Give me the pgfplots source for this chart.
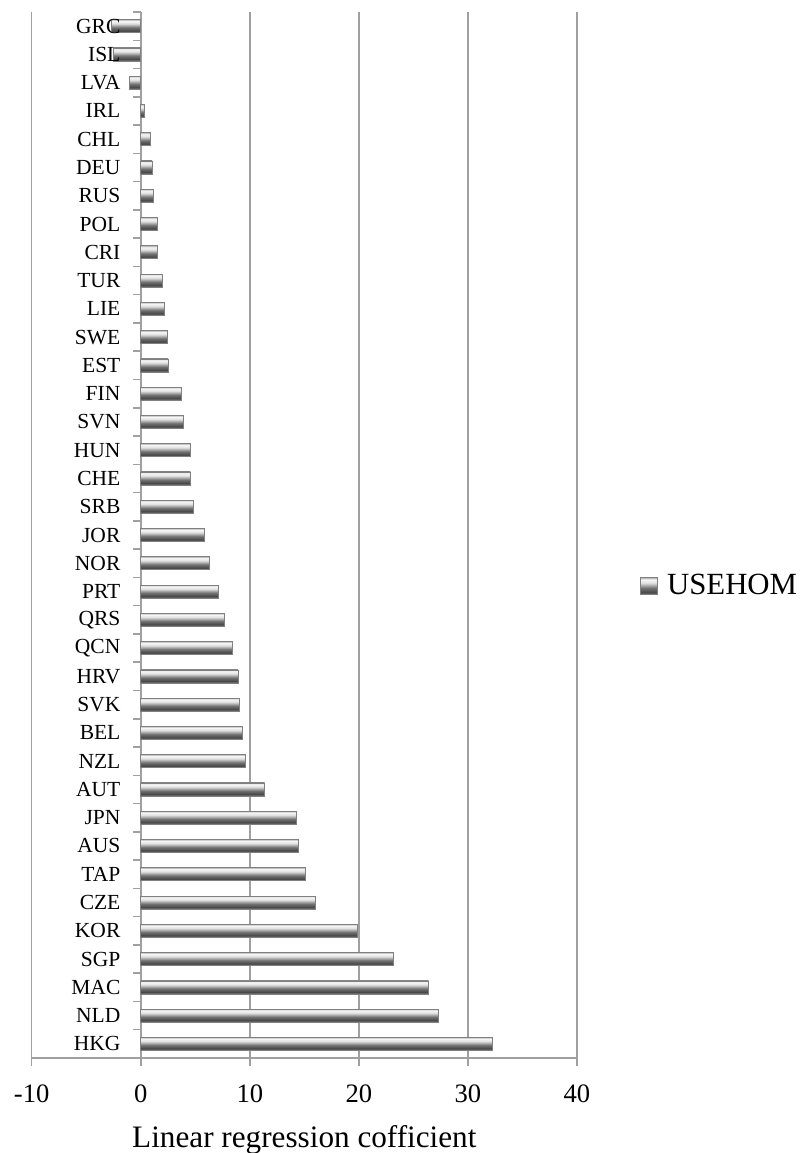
\documentclass[border=0pt]{standalone}
\usepackage{fontspec}
\setmainfont{Liberation Serif}
\usepackage{pgfplots}
\pgfplotsset{compat=1.18}

\definecolor{gridgray}{RGB}{160,160,160}
% cylinder-like shading for the bars (light top, dark lower part)
\pgfdeclareverticalshading{barshade}{100bp}{%
  color(0bp)=(black!50);
  color(25bp)=(black!50);
  color(32bp)=(black!72);
  color(45bp)=(black!55);
  color(60bp)=(black!12);
  color(70bp)=(black!3);
  color(75bp)=(black!30);
  color(100bp)=(black!30)}

\pgfplotsset{
  shadedbar/.style={xbar, bar width=6.5pt, draw=gray, line width=0.3pt,
    shading=barshade, forget plot},
}

\begin{document}
\begin{tikzpicture}
\useasboundingbox (0,0) rectangle (401pt,576.5pt);
\begin{axis}[
  at={(15.85pt,47.5pt)}, anchor=south west,
  scale only axis, width=272.65pt, height=523pt,
  xmin=-10, xmax=40, ymin=-0.5, ymax=36.5,
  clip=false,
  axis x line=bottom, axis y line=center,
  axis line style={gridgray, line width=0.75pt, -},
  hide obscured x ticks=false,
  xtick={-10,0,10,20,30,40},
  xmajorgrids, grid style={gridgray, line width=0.75pt},
  tick align=outside, major tick length=4pt,
  x tick style={gridgray, line width=0.75pt},
  y tick style={gridgray, line width=0.75pt, yshift=7.07pt},
  /pgf/number format/assume math mode=true,
  xticklabel style={font=\fontsize{13.3}{15}\selectfont, anchor=base, yshift=-18pt},
  ytick={0,...,36},
  yticklabel={\relax},
  xlabel={Linear regression cofficient},
  xlabel style={at={(axis description cs:0.5,0)}, anchor=base, yshift=-44.5pt,
    font=\fontsize{15.6}{19}\selectfont},
  legend style={at={(axis description cs:1.1155,0.451)}, anchor=west,
    draw=none, fill=none, inner sep=0pt, font=\fontsize{15.4}{18}\selectfont},
  legend image code/.code={%
    \shade[shading=barshade, draw=gray, line width=0.3pt] (0pt,-4.25pt) rectangle (8.5pt,4.25pt);
    \path (11pt,0pt);},
]
% USEHOM coefficients, one path per bar so that each bar gets its own shading
\addplot[shadedbar] coordinates {(32.2,0)};   % HKG
\addplot[shadedbar] coordinates {(27.3,1)};   % NLD
\addplot[shadedbar] coordinates {(26.4,2)};   % MAC
\addplot[shadedbar] coordinates {(23.2,3)};   % SGP
\addplot[shadedbar] coordinates {(19.9,4)};   % KOR
\addplot[shadedbar] coordinates {(16.0,5)};   % CZE
\addplot[shadedbar] coordinates {(15.1,6)};   % TAP
\addplot[shadedbar] coordinates {(14.4,7)};   % AUS
\addplot[shadedbar] coordinates {(14.3,8)};   % JPN
\addplot[shadedbar] coordinates {(11.35,9)};  % AUT
\addplot[shadedbar] coordinates {(9.55,10)};  % NZL
\addplot[shadedbar] coordinates {(9.35,11)};  % BEL
\addplot[shadedbar] coordinates {(9.0,12)};   % SVK
\addplot[shadedbar] coordinates {(8.9,13)};   % HRV
\addplot[shadedbar] coordinates {(8.35,14)};  % QCN
\addplot[shadedbar] coordinates {(7.65,15)};  % QRS
\addplot[shadedbar] coordinates {(7.1,16)};   % PRT
\addplot[shadedbar] coordinates {(6.25,17)};  % NOR
\addplot[shadedbar] coordinates {(5.8,18)};   % JOR
\addplot[shadedbar] coordinates {(4.8,19)};   % SRB
\addplot[shadedbar] coordinates {(4.55,20)};  % CHE
\addplot[shadedbar] coordinates {(4.55,21)};  % HUN
\addplot[shadedbar] coordinates {(3.9,22)};   % SVN
\addplot[shadedbar] coordinates {(3.7,23)};   % FIN
\addplot[shadedbar] coordinates {(2.5,24)};   % EST
\addplot[shadedbar] coordinates {(2.4,25)};   % SWE
\addplot[shadedbar] coordinates {(2.2,26)};   % LIE
\addplot[shadedbar] coordinates {(2.0,27)};   % TUR
\addplot[shadedbar] coordinates {(1.55,28)};  % CRI
\addplot[shadedbar] coordinates {(1.5,29)};   % POL
\addplot[shadedbar] coordinates {(1.15,30)};  % RUS
\addplot[shadedbar] coordinates {(1.05,31)};  % DEU
\addplot[shadedbar] coordinates {(0.9,32)};   % CHL
\addplot[shadedbar] coordinates {(0.35,33)};  % IRL
\addplot[shadedbar] coordinates {(-1.05,34)}; % LVA
\addplot[shadedbar] coordinates {(-2.5,35)};  % ISL
\addplot[shadedbar] coordinates {(-2.7,36)};  % GRC
% country codes, written after the bars so they sit on top of them
\addplot[only marks, mark=none, forget plot,
  point meta=explicit symbolic,
  nodes near coords, nodes near coords align={left},
  every node near coord/.append style={anchor=east, xshift=-10pt, inner sep=0pt,
    black, font=\fontsize{10.75}{12}\selectfont}]
  coordinates {
  (0,0) [HKG] (0,1) [NLD] (0,2) [MAC] (0,3) [SGP] (0,4) [KOR] (0,5) [CZE]
  (0,6) [TAP] (0,7) [AUS] (0,8) [JPN] (0,9) [AUT] (0,10) [NZL] (0,11) [BEL]
  (0,12) [SVK] (0,13) [HRV] (0,14) [QCN] (0,15) [QRS] (0,16) [PRT] (0,17) [NOR]
  (0,18) [JOR] (0,19) [SRB] (0,20) [CHE] (0,21) [HUN] (0,22) [SVN] (0,23) [FIN]
  (0,24) [EST] (0,25) [SWE] (0,26) [LIE] (0,27) [TUR] (0,28) [CRI] (0,29) [POL]
  (0,30) [RUS] (0,31) [DEU] (0,32) [CHL] (0,33) [IRL] (0,34) [LVA] (0,35) [ISL]
  (0,36) [GRC]};
\addlegendimage{}
\addlegendentry{USEHOM}
\end{axis}
\end{tikzpicture}
\end{document}
